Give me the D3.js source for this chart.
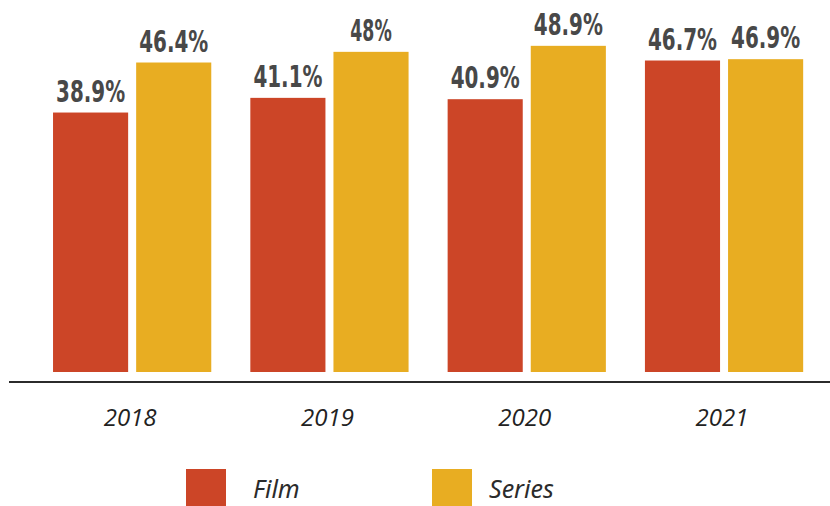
<!DOCTYPE html>
<html>
<head>
<meta charset="utf-8">
<script src="https://cdn.jsdelivr.net/npm/d3@7"></script>
<style>
  body { margin: 0; background: #fff; }
  svg { display: block; }
</style>
</head>
<body>
<div id="chart"></div>
<script>
var years = ["2018", "2019", "2020", "2021"];
var seriesNames = ["Film", "Series"];
var filmValues = [38.9, 41.1, 40.9, 46.7];
var seriesValues = [46.4, 48, 48.9, 46.9];
var valueLabels = {
  Film: ["38.9%", "41.1%", "40.9%", "46.7%"],
  Series: ["46.4%", "48%", "48.9%", "46.9%"]
};
var colors = ["#cc4527", "#e8ad22"];

var width = 830, height = 506;
var baseline = 372;

var svg = d3.select("#chart").append("svg")
  .attr("width", width)
  .attr("height", height);

// group scale and the scale inside each group
var x0 = d3.scaleBand()
  .domain(years)
  .range([33.3, 822.9])
  .paddingInner(0.198)
  .paddingOuter(0.1);

var x1 = d3.scaleBand()
  .domain(seriesNames)
  .range([0, x0.bandwidth()])
  .paddingInner(0.0964);

var y = d3.scaleLinear()
  .domain([0, 50])
  .range([baseline, baseline - 333.5]);

var color = d3.scaleOrdinal().domain(seriesNames).range(colors);

var rows = years.map(function(yr, i) {
  return { year: yr, Film: filmValues[i], Series: seriesValues[i], idx: i };
});

var groups = svg.append("g")
  .selectAll("g")
  .data(rows)
  .enter()
  .append("g")
  .attr("transform", d => "translate(" + x0(d.year) + ",0)");

var cells = groups.selectAll("g")
  .data(d => seriesNames.map(k => ({ key: k, value: d[k], idx: d.idx })))
  .enter()
  .append("g");

cells.append("rect")
  .attr("x", d => x1(d.key))
  .attr("y", d => y(d.value))
  .attr("width", x1.bandwidth())
  .attr("height", d => baseline - y(d.value))
  .style("fill", d => color(d.key));

// condensed value labels, stretched a little upward
cells.append("g")
  .attr("transform", d => "translate(" + (x1(d.key) + x1.bandwidth() / 2) + "," + (y(d.value) - 11) + ") scale(1,1.15)")
  .append("text")
  .attr("text-anchor", "middle")
  .attr("textLength", d => valueLabels[d.key][d.idx].length * 13.8)
  .attr("lengthAdjust", "spacingAndGlyphs")
  .style("font-family", "'DejaVu Sans Condensed', 'Liberation Sans Narrow', 'Liberation Sans', sans-serif")
  .style("font-weight", "bold")
  .style("font-size", "26px")
  .style("fill", "#484848")
  .text(d => valueLabels[d.key][d.idx]);

// X axis
var axis = svg.append("g")
  .attr("transform", "translate(0,382)")
  .call(d3.axisBottom(x0).tickSize(0).tickPadding(27));

axis.select(".domain")
  .attr("d", "M9,0H830")
  .style("stroke", "#2b2b2b")
  .style("stroke-width", 2);

axis.selectAll("text")
  .attr("dx", "-2")
  .style("font-family", "'Open Sans', 'Noto Sans', sans-serif")
  .style("font-style", "italic")
  .style("font-size", "24px")
  .style("fill", "#222");

// legend
var legendX = [186, 432];
var legend = svg.append("g")
  .selectAll("g")
  .data(seriesNames)
  .enter()
  .append("g")
  .attr("transform", (d, i) => "translate(" + legendX[i] + ",469)");

legend.append("rect")
  .attr("width", 40)
  .attr("height", 37)
  .style("fill", d => color(d));

legend.append("text")
  .attr("x", d => d == "Film" ? 67 : 57)
  .attr("y", 29)
  .style("font-family", "'Noto Sans', 'Open Sans', sans-serif")
  .style("font-style", "italic")
  .style("font-size", "25px")
  .style("fill", "#2b2b2b")
  .text(d => d);
</script>
</body>
</html>
